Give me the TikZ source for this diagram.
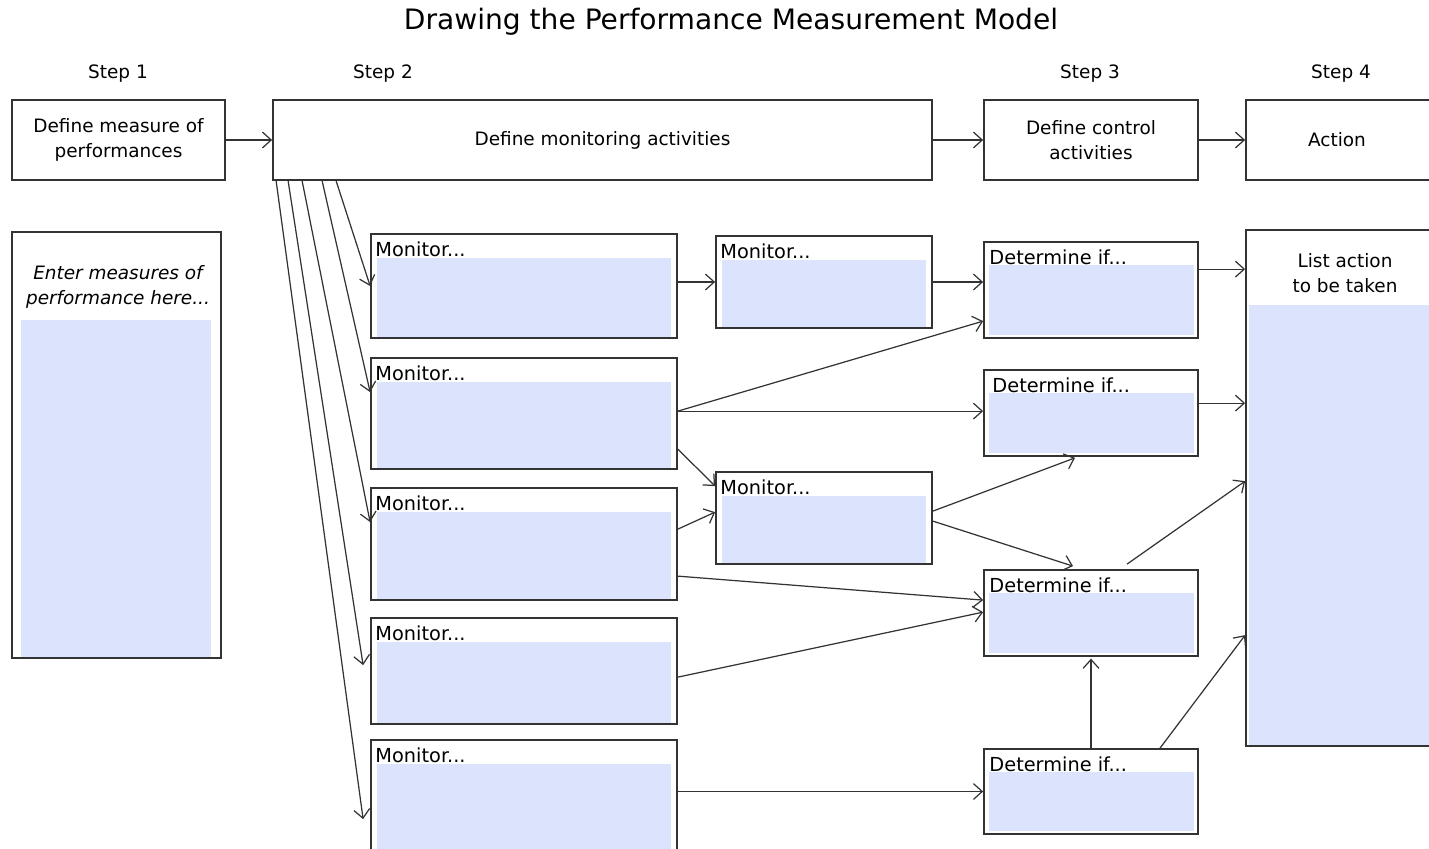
\documentclass[tikz,border=0pt]{standalone}
\usepackage{fontspec}
\setmainfont{DejaVu Sans}
\usetikzlibrary{arrows.meta,calc}
\definecolor{entryblue}{RGB}{220,227,252}
\definecolor{rulegray}{RGB}{51,51,51}
\tikzset{
  panel/.style={draw=rulegray, line width=1pt, fill=white, inner sep=0pt},
  entry/.style={fill=entryblue},
  caption/.style={font=\fontsize{10.5}{14}\selectfont, align=center, inner sep=0pt},
  tag/.style={font=\fontsize{11}{13}\selectfont, anchor=west, inner sep=0pt},
  link/.style={draw=rulegray, line width=0.7pt, -{Straight Barb[length=5pt,width=9pt]}},
}
\begin{document}
\begin{tikzpicture}[x=0.02cm,y=-0.02cm]
  \useasboundingbox (0,0) rectangle (1429,848);
  \clip (0,0) rectangle (1429,848);
  \node[font=\fontsize{16}{18}\selectfont] (title) at (731,22) {Drawing the Performance Measurement Model};
  \node[caption] (s1) at (118,74) {Step 1};
  \node[caption] (s2) at (383,74) {Step 2};
  \node[caption] (s3) at (1090,74) {Step 3};
  \node[caption] (s4) at (1341,74) {Step 4};
  % top row
  \node[panel, minimum width=213*0.02cm, minimum height=80*0.02cm] (b1) at (118.5,140) {};
  \node[caption] (b1txt) at (b1) {Define measure of\\performances};
  \node[panel, minimum width=659*0.02cm, minimum height=80*0.02cm] (b2) at (602.5,140) {};
  \node[caption] (b2txt) at (b2) {Define monitoring activities};
  \node[panel, minimum width=214*0.02cm, minimum height=80*0.02cm] (b3) at (1091,140) {};
  \node[caption] (b3txt) at (b3) {Define control\\activities};
  \node[panel, minimum width=200*0.02cm, minimum height=80*0.02cm] (b4) at (1346,140) {};
  \node[caption] (b4txt) at (1337,140) {Action};
  % step 1 column
  \node[panel, minimum width=209*0.02cm, minimum height=426*0.02cm] (meas) at (116.5,445) {};
  \fill[entry] ($(meas.north west)+(10,89)$) rectangle ($(meas.south east)+(-11,-2)$);
  \node[caption, font=\fontsize{10.5}{14}\selectfont\itshape] (meastxt) at (118,287) {Enter measures of\\performance here...};
  % monitor boxes
  \foreach \nm/\xa/\ya/\xb/\yb in {m1/371/234/677/338, m2/371/358/677/469,
      m3/371/488/677/600, m4/371/618/677/724, m5/371/740/677/870,
      m6/716/236/932/328, m7/716/472/932/564} {
    \node[panel, minimum width={(\xb-\xa)*0.02cm}, minimum height={(\yb-\ya)*0.02cm}] (\nm) at ({(\xa+\xb)/2},{(\ya+\yb)/2}) {};
    \fill[entry] ($(\nm.north west)+(7,25)$) rectangle ($(\nm.south east)+(-7,-2)$);
    \node[tag] (\nm txt) at ($(\nm.north west)+(5,16)$) {Monitor...};
  }
  % control boxes
  \foreach \nm/\ya/\yb/\dx in {d1/242/338/6, d2/370/456/9, d3/570/656/6, d4/749/834/6} {
    \node[panel, minimum width=214*0.02cm, minimum height={(\yb-\ya)*0.02cm}] (\nm) at (1091,{(\ya+\yb)/2}) {};
    \fill[entry] ($(\nm.north west)+(6,24)$) rectangle ($(\nm.south east)+(-5,-4)$);
    \node[tag] (\nm txt) at ($(\nm.north west)+(\dx,16)$) {Determine if...};
  }
  % step 4 column
  \node[panel, minimum width=198*0.02cm, minimum height=516*0.02cm] (todo) at (1345,488) {};
  \fill[entry] ($(todo.north west)+(4,76)$) rectangle ($(todo.south east)+(0,-2)$);
  \node[caption] (todotxt) at (1345,273) {List action\\to be taken};
  % arrows
  \draw[link] (b1) -- (b2);
  \draw[link] (b2) -- (b3);
  \draw[link] (b3.east) -- (b3.east -| b4.west);
  \draw[link] ($(b2.south west)+(64,0)$) -- (m1.west);
  \draw[link] ($(b2.south west)+(50,0)$) -- ($(m2.north west)+(0,35)$);
  \draw[link] ($(b2.south west)+(30,0)$) -- ($(m3.north west)+(0,35)$);
  \draw[link] ($(b2.south west)+(16,0)$) -- ($(m4.north west)+(-7,48)$);
  \draw[link] ($(b2.south west)+(4,0)$) -- ($(m5.north west)+(-7,80)$);
  \draw[link] (m1.east |- m6.west) -- (m6.west);
  \draw[link] (m6.east) -- (m6.east -| d1.west);
  \draw[link] ($(m2.north east)+(0,54)$) -- ($(d1.north west)+(0,80)$);
  \draw[link] ($(m2.north east)+(0,54)$) -- ($(d2.north west)+(0,42)$);
  \draw[link] ($(m2.north east)+(0,92)$) -- ($(m7.north west)+(0,15)$);
  \draw[link] ($(m3.north east)+(0,42)$) -- ($(m7.north west)+(0,41)$);
  \draw[link] ($(m3.north east)+(0,89)$) -- ($(d3.north west)+(0,31)$);
  \draw[link] ($(m4.north east)+(0,60)$) -- ($(d3.north west)+(0,43)$);
  \draw[link] (m5.east |- d4.west) -- (d4.west);
  \draw[link] ($(m7.north east)+(0,40)$) -- ($(d2.south)+(-16,1)$);
  \draw[link] ($(m7.north east)+(0,50)$) -- ($(d3.north)+(-18,-3)$);
  \draw[link] ($(d1.north east)+(0,28)$) -- ($(todo.north west)+(0,40)$);
  \draw[link] ($(d2.north east)+(0,34)$) -- ($(todo.north west)+(0,174)$);
  \draw[link] ($(d3.north)+(36,-5)$) -- ($(todo.north west)+(0,252)$);
  \draw[link] ($(d4.north)+(69,0)$) -- ($(todo.north west)+(0,406)$);
  \draw[link, shorten >=1pt] (d4) -- (d3);
\end{tikzpicture}
\end{document}
